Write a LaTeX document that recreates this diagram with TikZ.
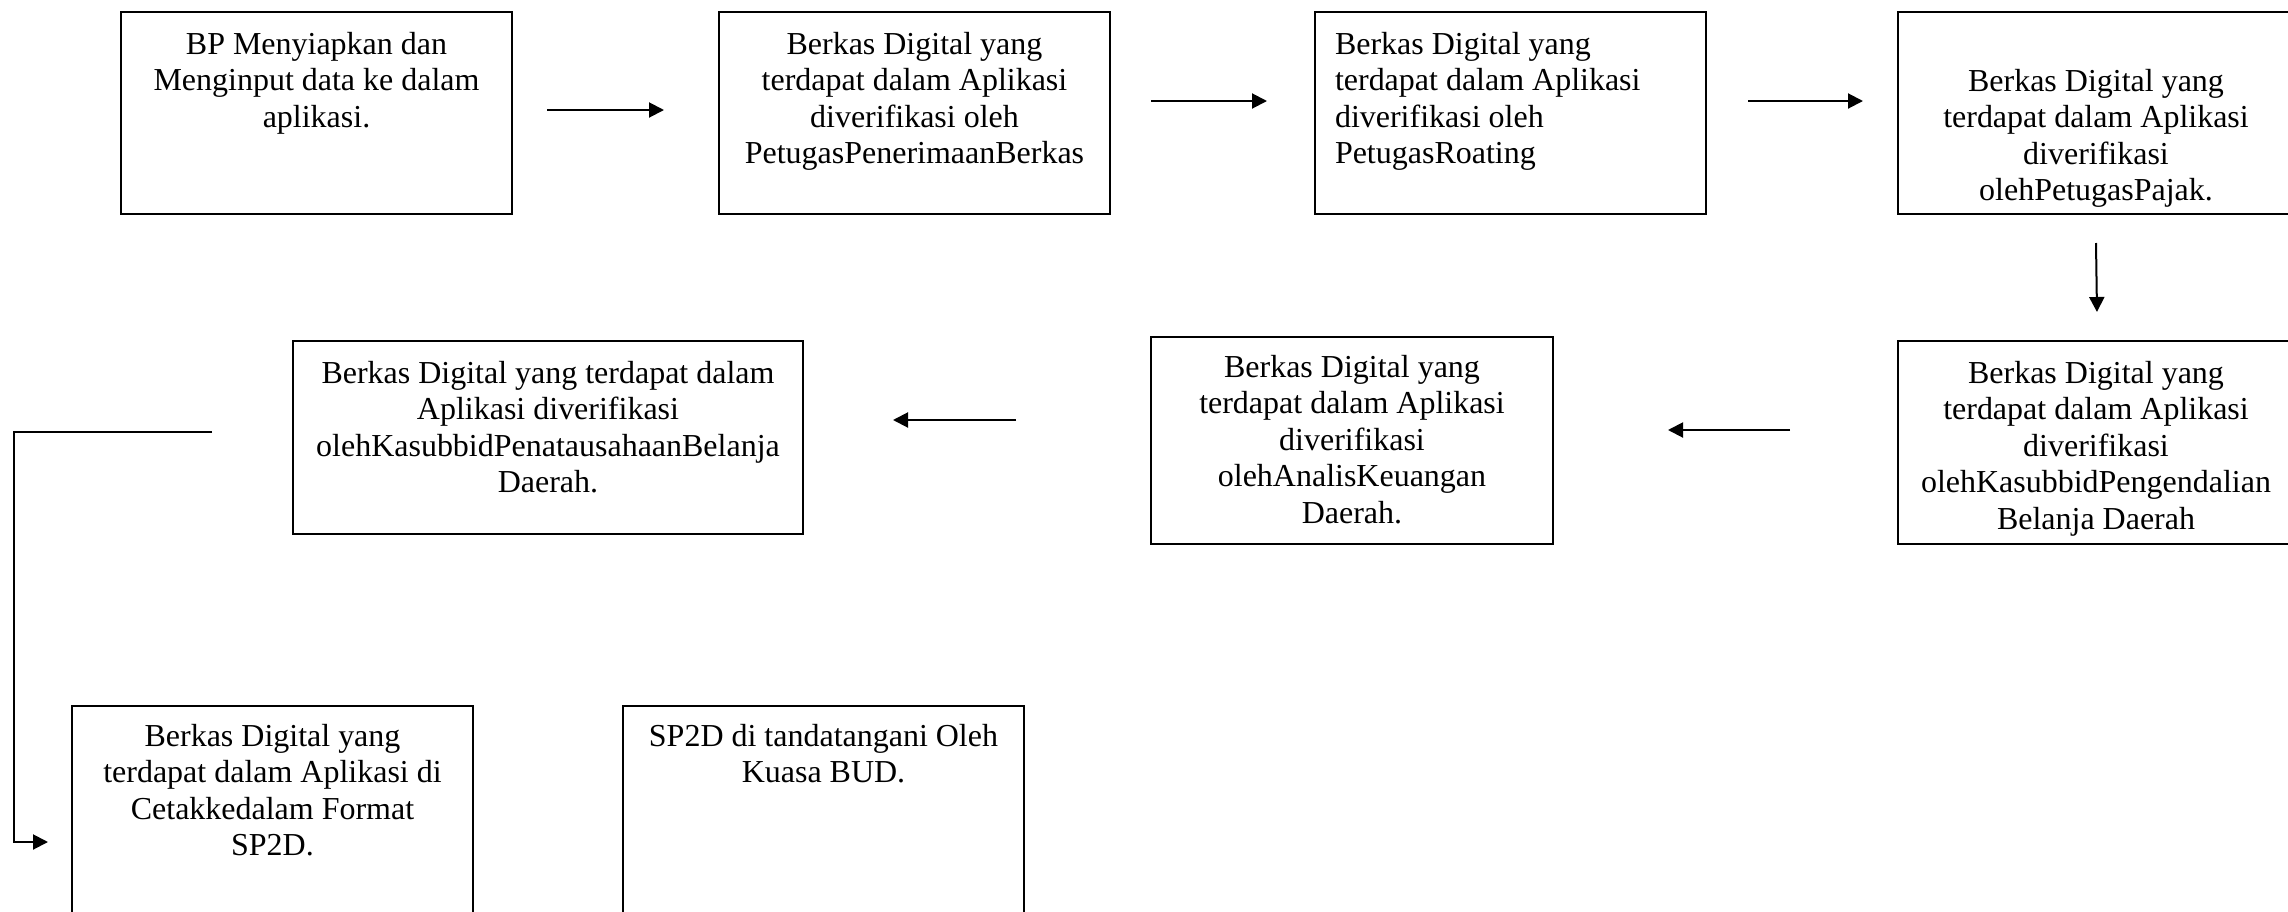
\documentclass[tikz,border=0pt]{standalone}
\usepackage{fontspec}
\setmainfont{Liberation Serif}
\usetikzlibrary{positioning,arrows.meta}

\begin{document}
\begin{tikzpicture}[
    stepbox/.style={draw, line width=0.02cm, anchor=north west, inner sep=0pt, outer sep=0pt},
    steptext/.style={align=center, inner sep=0pt, outer sep=0pt, font=\fontsize{9.1}{10.4}\selectfont},
    flow/.style={-{Triangle[length=0.15cm,width=0.15cm]}, line width=0.02cm}
]
    \useasboundingbox (0,0) rectangle (22.88,-9.12);

    % Boxes
    \node[stepbox, minimum width=3.91cm, minimum height=2.02cm] (bp) at (1.21,-0.12) {};
    \node[stepbox, minimum width=3.91cm, minimum height=2.02cm] (terima) at (7.19,-0.12) {};
    \node[stepbox, minimum width=3.91cm, minimum height=2.02cm] (roating) at (13.15,-0.12) {};
    \node[stepbox, minimum width=3.96cm, minimum height=2.02cm] (pajak) at (18.98,-0.12) {};
    \node[stepbox, minimum width=3.96cm, minimum height=2.03cm] (kendali) at (18.98,-3.41) {};
    \node[stepbox, minimum width=4.02cm, minimum height=2.07cm] (analis) at (11.51,-3.37) {};
    \node[stepbox, minimum width=5.10cm, minimum height=1.93cm] (tatausaha) at (2.93,-3.41) {};
    \node[stepbox, minimum width=4.01cm, minimum height=2.20cm] (cetak) at (0.72,-7.06) {};
    \node[stepbox, minimum width=4.01cm, minimum height=2.20cm] (ttd) at (6.23,-7.06) {};

    % Texts
    \node[steptext, below=0.2cm of bp.north] (tbp) {BP Menyiapkan dan\\Menginput data ke dalam\\aplikasi.};
    \node[steptext, below=0.2cm of terima.north] (tterima) {Berkas Digital yang\\terdapat dalam Aplikasi\\diverifikasi oleh\\PetugasPenerimaanBerkas};
    \node[steptext, align=left, below right=0.2cm and 0.2cm of roating.north west] (troating) {Berkas Digital yang\\terdapat dalam Aplikasi\\diverifikasi oleh\\PetugasRoating};
    \node[steptext, below=0.57cm of pajak.north] (tpajak) {Berkas Digital yang\\terdapat dalam Aplikasi\\diverifikasi\\olehPetugasPajak.};
    \node[steptext, below=0.2cm of kendali.north] (tkendali) {Berkas Digital yang\\terdapat dalam Aplikasi\\diverifikasi\\olehKasubbidPengendalian\\Belanja Daerah};
    \node[steptext, below=0.18cm of analis.north] (tanalis) {Berkas Digital yang\\terdapat dalam Aplikasi\\diverifikasi\\olehAnalisKeuangan\\Daerah.};
    \node[steptext, below=0.2cm of tatausaha.north] (ttatausaha) {Berkas Digital yang terdapat dalam\\Aplikasi diverifikasi\\olehKasubbidPenatausahaanBelanja\\Daerah.};
    \node[steptext, below=0.18cm of cetak.north] (tcetak) {Berkas Digital yang\\terdapat dalam Aplikasi di\\Cetakkedalam Format\\SP2D.};
    \node[steptext, below=0.18cm of ttd.north] (tttd) {SP2D di tandatangani Oleh\\Kuasa BUD.};

    % Arrows
    \coordinate (a1) at (5.47,-1.10);  \coordinate (a2) at (6.64,-1.10);
    \coordinate (a3) at (11.51,-1.01); \coordinate (a4) at (12.67,-1.01);
    \coordinate (a5) at (17.48,-1.01); \coordinate (a6) at (18.63,-1.01);
    \coordinate (a7) at (20.96,-2.43); \coordinate (a8) at (20.97,-3.12);
    \coordinate (a9) at (17.90,-4.30); \coordinate (a10) at (16.68,-4.30);
    \coordinate (a11) at (10.16,-4.20); \coordinate (a12) at (8.93,-4.20);
    \coordinate (a13) at (2.12,-4.32); \coordinate (a14) at (0.14,-4.32);
    \coordinate (a15) at (0.14,-8.42); \coordinate (a16) at (0.48,-8.42);

    \draw[flow] (a1) -- (a2);
    \draw[flow] (a3) -- (a4);
    \draw[flow] (a5) -- (a6);
    \draw[flow] (a7) -- (a8);
    \draw[flow] (a9) -- (a10);
    \draw[flow] (a11) -- (a12);
    \draw[flow] (a13) -- (a14) -- (a15) -- (a16); % back to the left
\end{tikzpicture}
\end{document}
